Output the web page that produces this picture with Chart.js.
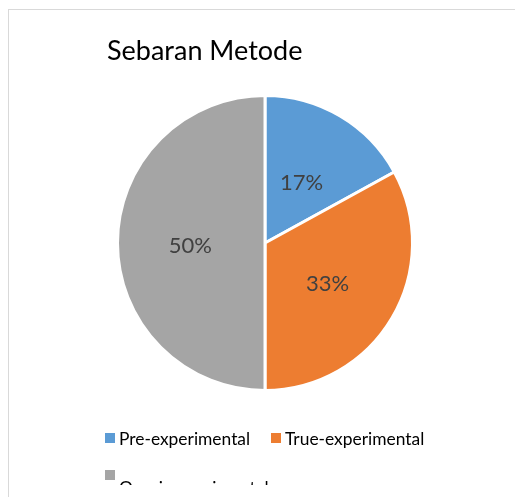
<!DOCTYPE html>
<html>
<head>
<meta charset="utf-8">
<script src="https://cdn.jsdelivr.net/npm/chart.js@4.4.1/dist/chart.umd.min.js"></script>
<style>
  body { margin: 0; background: #fff; font-family: Lato, "Noto Sans", sans-serif; }
  #wrap { position: relative; width: 515px; height: 497px; overflow: hidden; }
  #frame { position: absolute; left: 8px; top: 9px; width: 600px; height: 600px; border: 1px solid #d9d9d9; }
  #chart { position: absolute; left: 0; top: 0; }
  #title { position: absolute; left: 107px; top: 33px; font-size: 27px; color: #000; white-space: nowrap; }
  .leg { position: absolute; font-size: 17.4px; color: #000; white-space: nowrap; }
  .box { position: absolute; width: 10px; height: 10px; }
  #legclip { position: absolute; left: 0; top: 0; width: 515px; height: 485px; overflow: hidden; }
</style>
</head>
<body>
<div id="wrap">
  <div id="frame"></div>
  <canvas id="chart" width="515" height="497"></canvas>
  <div id="title">Sebaran Metode</div>
  <div id="legclip"></div>
</div>
<script>
const categories = ['Pre-experimental', 'True-experimental', 'Quasi-experimental'];
const percentages = [17, 33, 50];
const colors = ['#5B9BD5', '#ED7D31', '#A5A5A5'];

// legend, laid out like the Excel one (third item wraps under its marker)
const legendSpots = [
    { box: [105, 433], text: [119, 428] },
    { box: [271, 433], text: [285, 428] },
    { box: [105, 470], text: [119, 477] }
];
const clip = document.getElementById('legclip');
categories.forEach((name, i) => {
    const b = document.createElement('div');
    b.className = 'box';
    b.style.left = legendSpots[i].box[0] + 'px';
    b.style.top = legendSpots[i].box[1] + 'px';
    b.style.background = colors[i];
    clip.appendChild(b);
    const t = document.createElement('div');
    t.className = 'leg';
    t.style.left = legendSpots[i].text[0] + 'px';
    t.style.top = legendSpots[i].text[1] + 'px';
    t.textContent = name;
    clip.appendChild(t);
});

const pctLabels = {
    id: 'pctLabels',
    afterDatasetsDraw(chart) {
        const ctx = chart.ctx;
        const meta = chart.getDatasetMeta(0);
        ctx.save();
        ctx.font = '22px Lato, "Noto Sans", sans-serif';
        ctx.fillStyle = '#404040';
        ctx.textAlign = 'center';
        ctx.textBaseline = 'middle';
        meta.data.forEach((arc, i) => {
            const p = arc.tooltipPosition();
            ctx.fillText(percentages[i] + '%', p.x - 1, p.y + 3);
        });
        ctx.restore();
    }
};

new Chart(document.getElementById('chart'), {
    type: 'pie',
    data: {
        labels: categories,
        datasets: [{
            data: percentages,
            backgroundColor: colors,
            borderColor: '#ffffff',
            borderWidth: 3
        }]
    },
    options: {
        responsive: false,
        animation: false,
        layout: { padding: { left: 116, right: 101, top: 94, bottom: 105 } },
        plugins: {
            legend: { display: false },
            tooltip: { enabled: false }
        }
    },
    plugins: [pctLabels]
});
</script>
</body>
</html>
